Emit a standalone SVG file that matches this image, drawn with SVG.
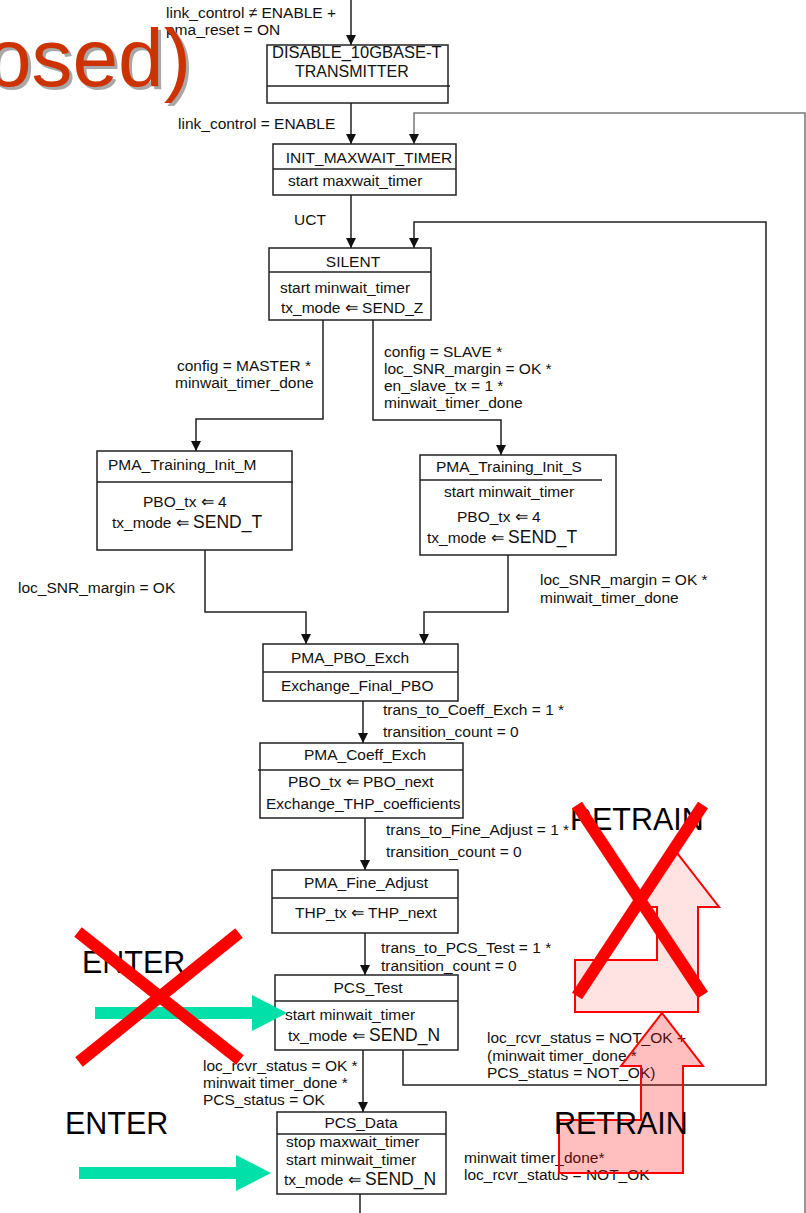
<svg xmlns="http://www.w3.org/2000/svg" width="806" height="1213" viewBox="0 0 806 1213">
  <defs>
    <marker id="arr" viewBox="0 0 10 10" refX="10" refY="5" markerWidth="10" markerHeight="10" markerUnits="userSpaceOnUse" orient="auto">
      <path d="M0,0 L10,5 L0,10 z" fill="#111"/>
    </marker>
    <style>
      .box { fill: #fff; stroke: #222; stroke-width: 1.5; }
      .div { stroke: #222; stroke-width: 1.5; }
      .wire { fill: none; stroke: #222; stroke-width: 1.5; }
      .t { font-family: "Liberation Sans", Arial, sans-serif; font-size: 15.5px; fill: #111; }
      .c { text-anchor: middle; }
      .big { font-size: 17.5px; }
      .cap { font-family: "Liberation Sans", Arial, sans-serif; font-size: 30.5px; fill: #000; }
      .title { font-family: "Liberation Sans", Arial, sans-serif; font-size: 82px; text-anchor: end; }
      .cross { stroke: #ff0000; stroke-width: 12; stroke-linecap: butt; }
      .go { fill: #00e0a8; }
    </style>
  </defs>

  <rect width="806" height="1213" fill="#fff"/>

  <!-- transition labels -->
  <g id="labels" class="t">
    <text x="166" y="18">link_control ≠ ENABLE +</text>
    <text x="166" y="35">pma_reset = ON</text>
    <text x="178" y="129">link_control = ENABLE</text>
    <text x="294" y="225">UCT</text>
    <text x="177" y="371">config = MASTER *</text>
    <text x="175" y="388">minwait_timer_done</text>
    <text x="384" y="357">config = SLAVE *</text>
    <text x="384" y="374">loc_SNR_margin = OK *</text>
    <text x="384" y="391">en_slave_tx = 1 *</text>
    <text x="384" y="408">minwait_timer_done</text>
    <text x="18" y="593">loc_SNR_margin = OK</text>
    <text x="540" y="585">loc_SNR_margin = OK *</text>
    <text x="540" y="603">minwait_timer_done</text>
    <text x="383" y="715">trans_to_Coeff_Exch = 1 *</text>
    <text x="383" y="737">transition_count = 0</text>
    <text x="386" y="835">trans_to_Fine_Adjust = 1 *</text>
    <text x="386" y="857">transition_count = 0</text>
    <text x="381" y="953">trans_to_PCS_Test = 1 *</text>
    <text x="381" y="971">transition_count = 0</text>
    <text x="203" y="1071">loc_rcvr_status = OK *</text>
    <text x="203" y="1088">minwait timer_done *</text>
    <text x="203" y="1105">PCS_status = OK</text>
    <text x="487" y="1043">loc_rcvr_status = NOT_OK +</text>
    <text x="487" y="1061">(minwait timer_done *</text>
    <text x="487" y="1078">PCS_status = NOT_OK)</text>
    <text x="464" y="1163">minwait timer_done*</text>
    <text x="464" y="1180">loc_rcvr_status = NOT_OK</text>
  </g>

  <!-- connectors -->
  <g id="connectors" class="wire">
    <path d="M351,0 V45" marker-end="url(#arr)"/>
    <path d="M351,103 V144" marker-end="url(#arr)"/>
    <path d="M805,1213 V113 H414 V144" marker-end="url(#arr)" stroke="#777"/>
    <path d="M351,195 V248" marker-end="url(#arr)"/>
    <path d="M403,1050 V1085 H766 V222 H414 V248" marker-end="url(#arr)"/>
    <path d="M323,320 V419 H196 V451" marker-end="url(#arr)"/>
    <path d="M373,320 V420 H501 V455" marker-end="url(#arr)"/>
    <path d="M205,550 V612 H306 V644" marker-end="url(#arr)"/>
    <path d="M508,555 V612 H424 V644" marker-end="url(#arr)"/>
    <path d="M363,701 V743" marker-end="url(#arr)"/>
    <path d="M365,818 V870" marker-end="url(#arr)"/>
    <path d="M365,933 V975" marker-end="url(#arr)"/>
    <path d="M363,1050 V1112" marker-end="url(#arr)"/>
    <path d="M360,1194 V1213"/>
  </g>

  <!-- states -->
  <g id="disable" class="t">
    <rect class="box" x="267" y="45" width="181" height="58"/>
    <line class="div" x1="267" y1="86" x2="450" y2="86"/>
    <text x="272" y="58" font-size="16.5">DISABLE_10GBASE-T</text>
    <text x="295" y="77" font-size="16">TRANSMITTER</text>
  </g>
  <g id="init_maxwait" class="t">
    <rect class="box" x="273" y="144" width="183" height="51"/>
    <line class="div" x1="273" y1="169" x2="456" y2="169"/>
    <text class="c" x="369" y="163">INIT_MAXWAIT_TIMER</text>
    <text x="288" y="186">start maxwait_timer</text>
  </g>
  <g id="silent" class="t">
    <rect class="box" x="269" y="248" width="162" height="72"/>
    <line class="div" x1="269" y1="272" x2="431" y2="272"/>
    <text class="c" x="353" y="267">SILENT</text>
    <text x="280" y="293">start minwait_timer</text>
    <text x="281" y="313">tx_mode ⇐ SEND_Z</text>
  </g>
  <g id="training_init_m" class="t">
    <rect class="box" x="97" y="451" width="195" height="99"/>
    <line class="div" x1="97" y1="482" x2="293" y2="482"/>
    <text x="108" y="470">PMA_Training_Init_M</text>
    <text x="143" y="507">PBO_tx ⇐ 4</text>
    <text x="112" y="528">tx_mode ⇐ <tspan class="big">SEND_T</tspan></text>
  </g>
  <g id="training_init_s" class="t">
    <rect class="box" x="420" y="455" width="196" height="100"/>
    <line class="div" x1="420" y1="480" x2="602" y2="480" stroke="#bbb"/>
    <text x="436" y="472">PMA_Training_Init_S</text>
    <text x="444" y="497">start minwait_timer</text>
    <text x="457" y="522">PBO_tx ⇐ 4</text>
    <text x="427" y="543">tx_mode ⇐ <tspan class="big">SEND_T</tspan></text>
  </g>
  <g id="pbo_exch" class="t">
    <rect class="box" x="263" y="644" width="195" height="57"/>
    <line class="div" x1="263" y1="672" x2="458" y2="672"/>
    <text class="c" x="350" y="663">PMA_PBO_Exch</text>
    <text x="281" y="691">Exchange_Final_PBO</text>
  </g>
  <g id="coeff_exch" class="t">
    <rect class="box" x="260" y="743" width="203" height="75"/>
    <line class="div" x1="258" y1="770" x2="463" y2="770"/>
    <text class="c" x="365" y="760">PMA_Coeff_Exch</text>
    <text x="288" y="787">PBO_tx ⇐ PBO_next</text>
    <text x="266" y="809">Exchange_THP_coefficients</text>
  </g>
  <g id="fine_adjust" class="t">
    <rect class="box" x="272" y="870" width="186" height="63"/>
    <line class="div" x1="272" y1="898" x2="458" y2="898"/>
    <text class="c" x="366" y="888">PMA_Fine_Adjust</text>
    <text x="295" y="918">THP_tx ⇐ THP_next</text>
  </g>
  <g id="pcs_test" class="t">
    <rect class="box" x="275" y="975" width="183" height="75"/>
    <line class="div" x1="275" y1="1001" x2="458" y2="1001"/>
    <text class="c" x="368" y="993">PCS_Test</text>
    <text x="285" y="1020">start minwait_timer</text>
    <text x="288" y="1041">tx_mode ⇐ <tspan class="big">SEND_N</tspan></text>
  </g>
  <g id="pcs_data" class="t">
    <rect class="box" x="277" y="1112" width="169" height="82"/>
    <line class="div" x1="277" y1="1134" x2="446" y2="1134"/>
    <text class="c" x="361" y="1128">PCS_Data</text>
    <text x="286" y="1147">stop maxwait_timer</text>
    <text x="286" y="1165">start minwait_timer</text>
    <text x="284" y="1185">tx_mode ⇐ <tspan class="big">SEND_N</tspan></text>
  </g>

  <!-- heading fragment -->
  <g id="heading">
    <text class="title" x="194" y="89" fill="#a8a8a8">osed)</text>
    <text class="title" x="191" y="86" fill="#cc3300">osed)</text>
  </g>

  <!-- entry / retrain callouts -->
  <g id="enter_test">
    <text class="cap" x="82" y="973">ENTER</text>
    <path class="go" d="M95,1007 H252 V995 L287,1013 L252,1031 V1019 H95 z"/>
    <line class="cross" x1="78" y1="932" x2="240" y2="1060"/>
    <line class="cross" x1="239" y1="933" x2="79" y2="1062"/>
  </g>
  <g id="enter_data">
    <text class="cap" x="65" y="1134">ENTER</text>
    <path class="go" d="M79,1167 H236 V1155 L271,1173 L236,1191 V1179 H79 z"/>
  </g>
  <g id="retrain_upper">
    <text class="cap" x="570" y="830">RETRAIN</text>
    <path d="M575,1012 V960 H657 V907 H635 L677,853 L719,907 H698 V1012 z" fill="#ff0000" fill-opacity="0.11" stroke="#ff0000" stroke-width="2"/>
    <line class="cross" x1="577" y1="805" x2="703" y2="995"/>
    <line class="cross" x1="703" y1="805" x2="577" y2="996"/>
  </g>
  <g id="retrain_lower">
    <path d="M662,1013 L703,1066 H683 V1173 H559 V1120 H641 V1066 H621 z" fill="#ff0000" fill-opacity="0.25" stroke="#ff0000" stroke-width="2"/>
    <text class="cap" x="554" y="1134">RETRAIN</text>
  </g>
</svg>
